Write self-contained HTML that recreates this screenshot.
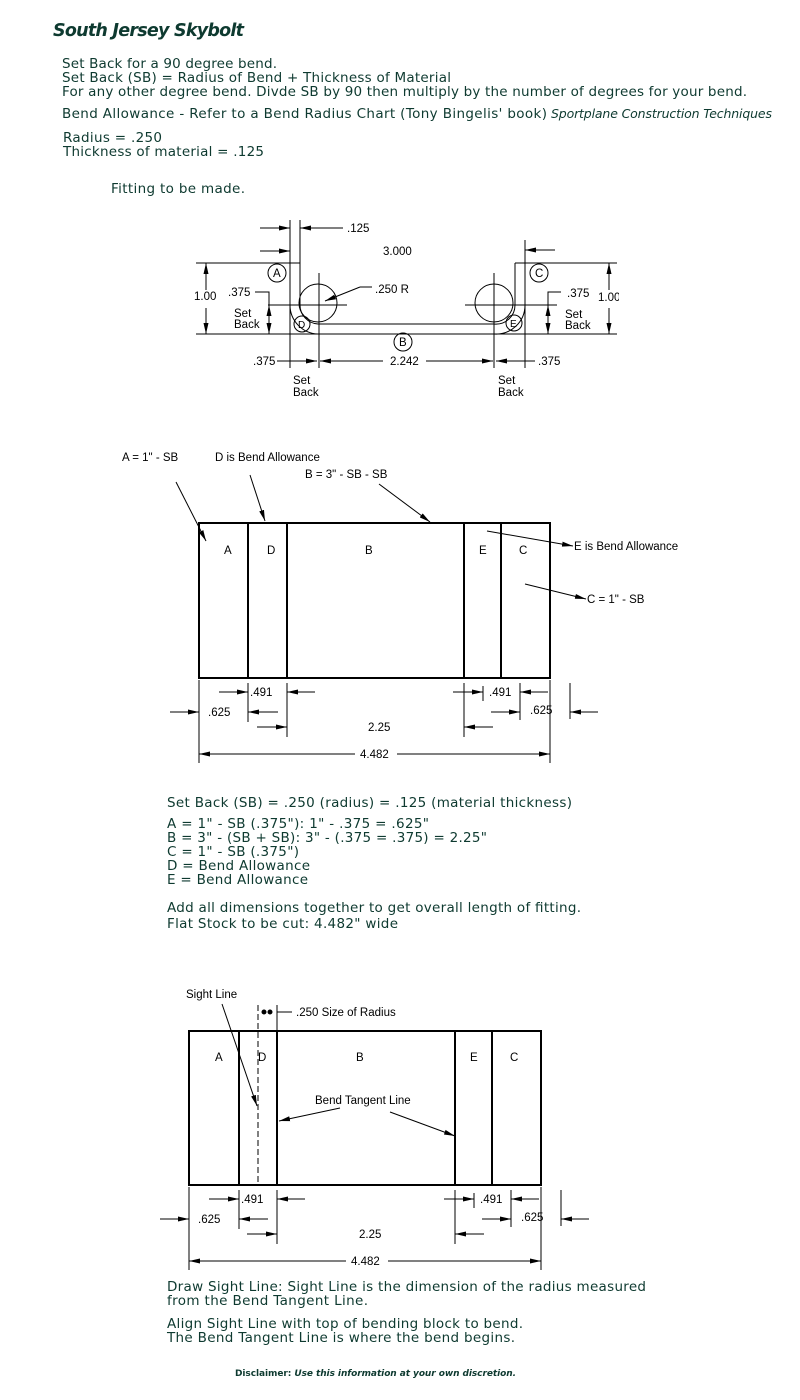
<!DOCTYPE html>
<html><head><meta charset="utf-8"><style>
html,body{margin:0;padding:0;background:#fff;}
svg{display:block;}
.t{font-family:"DejaVu Sans",sans-serif;font-size:13.5px;fill:#0e3a30;}
.d{font-family:"Liberation Sans",sans-serif;font-size:11.5px;fill:#000;}
.ln{stroke:#000;stroke-width:1;fill:none;}
.th{stroke:#000;stroke-width:2;fill:none;}
</style></head><body>
<svg width="800" height="1400" viewBox="0 0 800 1400" xmlns="http://www.w3.org/2000/svg">
<defs>
<marker id="a" markerUnits="userSpaceOnUse" markerWidth="11" markerHeight="6" refX="11" refY="3" orient="auto"><path d="M0,0.5 L11,3 L0,5.5 z" fill="#000"/></marker>
</defs>
<!-- header -->
<text x="53" y="36" textLength="191" style="font-family:'DejaVu Sans',sans-serif;font-size:17.5px;font-weight:bold;font-style:italic;fill:#0e3a30">South Jersey Skybolt</text>
<text class="t" x="62" y="68" textLength="215">Set Back for a 90 degree bend.</text>
<text class="t" x="62" y="82" textLength="389">Set Back (SB) = Radius of Bend + Thickness of Material</text>
<text class="t" x="62" y="96" textLength="685">For any other degree bend. Divde SB by 90 then multiply by the number of degrees for your bend.</text>
<text class="t" x="62" y="118" textLength="485">Bend Allowance - Refer to a Bend Radius Chart (Tony Bingelis' book)</text>
<text class="t" x="551" y="118" textLength="221" style="font-style:italic;font-size:12.5px">Sportplane Construction Techniques</text>
<text class="t" x="63" y="142" textLength="99">Radius = .250</text>
<text class="t" x="63" y="156" textLength="201">Thickness of material = .125</text>
<text class="t" x="111" y="193" textLength="134">Fitting to be made.</text>

<!-- TOP DIAGRAM -->
<g class="ln">
<line x1="290" y1="220" x2="290" y2="368"/><line x1="300" y1="220" x2="300" y2="263"/>
<line x1="260" y1="228" x2="290" y2="228" marker-end="url(#a)"/>
<line x1="343" y1="228" x2="300" y2="228" marker-end="url(#a)"/>
<line x1="260" y1="251" x2="290" y2="251" marker-end="url(#a)"/>
<line x1="555" y1="250" x2="525" y2="250" marker-end="url(#a)"/>
<line x1="525" y1="240" x2="525" y2="368"/>
<line x1="196" y1="263" x2="300" y2="263"/>
<line x1="515" y1="263" x2="617" y2="263"/>
<line x1="196" y1="334" x2="318" y2="334"/>
<line x1="494" y1="334" x2="617" y2="334"/>
<line x1="318" y1="334" x2="494" y2="334"/>
<line x1="318" y1="324" x2="494" y2="324"/>
<path d="M300,263 L300,305 A19,19 0 0 0 318,324"/>
<path d="M290,263 L290,305 A29,29 0 0 0 318,334"/>
<path d="M515,263 L515,305 A19,19 0 0 1 494,324"/>
<path d="M525,263 L525,305 A29,29 0 0 1 494,334"/>
<circle cx="318" cy="303" r="19"/><circle cx="494" cy="303" r="19"/>
<line x1="268" y1="305" x2="347" y2="305"/><line x1="319" y1="273" x2="319" y2="368"/>
<line x1="465" y1="305" x2="557" y2="305"/><line x1="494" y1="273" x2="494" y2="368"/>
<circle cx="277" cy="273" r="9"/><circle cx="539" cy="273" r="9"/>
<circle cx="403" cy="342" r="9"/><circle cx="302" cy="324" r="8"/><circle cx="514" cy="323" r="8"/>
<line x1="206" y1="290" x2="206" y2="263" marker-end="url(#a)"/>
<line x1="206" y1="308" x2="206" y2="334" marker-end="url(#a)"/>
<line x1="609" y1="290" x2="609" y2="263" marker-end="url(#a)"/>
<line x1="609" y1="308" x2="609" y2="334" marker-end="url(#a)"/>
<polyline points="255,292 269,292 269,334"/>
<line x1="269" y1="320" x2="269" y2="305" marker-end="url(#a)"/>
<line x1="269" y1="318" x2="269" y2="334" marker-end="url(#a)"/>
<polyline points="561,292 548,292 548,334"/>
<line x1="548" y1="320" x2="548" y2="305" marker-end="url(#a)"/>
<line x1="548" y1="318" x2="548" y2="334" marker-end="url(#a)"/>
<line x1="277" y1="361" x2="317" y2="361" marker-end="url(#a)"/>
<line x1="383" y1="361" x2="320" y2="361" marker-end="url(#a)"/>
<line x1="426" y1="361" x2="493" y2="361" marker-end="url(#a)"/>
<line x1="535" y1="361" x2="496" y2="361" marker-end="url(#a)"/>
<line x1="372" y1="287" x2="360" y2="287"/>
<line x1="360" y1="287" x2="325" y2="301" marker-end="url(#a)"/>
</g>
<g class="d">
<text x="347" y="232">.125</text><text x="383" y="255">3.000</text>
<text x="273" y="277">A</text><text x="535" y="277">C</text><text x="399" y="346">B</text>
<text x="298" y="328" font-size="10">D</text><text x="510" y="327" font-size="10">E</text>
<text x="194" y="300">1.00</text><text x="228" y="296">.375</text>
<text x="234" y="317">Set</text><text x="234" y="328">Back</text>
<text x="598" y="301">1.00</text><text x="567" y="297">.375</text>
<text x="565" y="318">Set</text><text x="565" y="329">Back</text>
<text x="375" y="293">.250 R</text>
<text x="253" y="365">.375</text><text x="390" y="365">2.242</text><text x="538" y="365">.375</text>
<text x="293" y="384">Set</text><text x="293" y="396">Back</text>
<text x="498" y="384">Set</text><text x="498" y="396">Back</text>
</g>
<rect x="619" y="280" width="20" height="30" fill="#fff"/>

<!-- MIDDLE DIAGRAM -->
<g class="th">
<rect x="199" y="523" width="351" height="155"/>
<line x1="248" y1="523" x2="248" y2="678"/><line x1="287" y1="523" x2="287" y2="678"/>
<line x1="464" y1="523" x2="464" y2="678"/><line x1="501" y1="523" x2="501" y2="678"/>
</g>
<g class="ln">
<line x1="176" y1="482" x2="206" y2="541" marker-end="url(#a)"/>
<line x1="250" y1="475" x2="265" y2="521" marker-end="url(#a)"/>
<line x1="379" y1="484" x2="430" y2="522" marker-end="url(#a)"/>
<line x1="487" y1="531" x2="573" y2="546" marker-end="url(#a)"/>
<line x1="525" y1="584" x2="586" y2="599" marker-end="url(#a)"/>
<line x1="199" y1="680" x2="199" y2="763"/><line x1="248" y1="683" x2="248" y2="722"/>
<line x1="287" y1="683" x2="287" y2="737"/><line x1="464" y1="683" x2="464" y2="737"/>
<line x1="483" y1="686" x2="483" y2="701"/><line x1="520" y1="683" x2="520" y2="720"/>
<line x1="550" y1="680" x2="550" y2="763"/><line x1="570" y1="683" x2="570" y2="719"/>
<line x1="219" y1="692" x2="248" y2="692" marker-end="url(#a)"/>
<line x1="315" y1="692" x2="287" y2="692" marker-end="url(#a)"/>
<line x1="170" y1="712" x2="199" y2="712" marker-end="url(#a)"/>
<line x1="278" y1="712" x2="248" y2="712" marker-end="url(#a)"/>
<line x1="257" y1="727" x2="287" y2="727" marker-end="url(#a)"/>
<line x1="493" y1="727" x2="464" y2="727" marker-end="url(#a)"/>
<line x1="453" y1="692" x2="483" y2="692" marker-end="url(#a)"/>
<line x1="548" y1="692" x2="520" y2="692" marker-end="url(#a)"/>
<line x1="491" y1="712" x2="520" y2="712" marker-end="url(#a)"/>
<line x1="598" y1="712" x2="570" y2="712" marker-end="url(#a)"/>
<line x1="355" y1="754" x2="199" y2="754" marker-end="url(#a)"/>
<line x1="397" y1="754" x2="550" y2="754" marker-end="url(#a)"/>
</g>
<g class="d">
<text x="122" y="461">A = 1" - SB</text><text x="215" y="461">D is Bend Allowance</text>
<text x="305" y="478">B = 3" - SB - SB</text>
<text x="574" y="550">E is Bend Allowance</text><text x="587" y="603">C = 1" - SB</text>
<text x="224" y="554">A</text><text x="267" y="554">D</text><text x="365" y="554">B</text>
<text x="479" y="554">E</text><text x="519" y="554">C</text>
<text x="250" y="696">.491</text><text x="208" y="716">.625</text><text x="368" y="731">2.25</text>
<text x="489" y="696">.491</text><text x="530" y="714">.625</text><text x="360" y="758">4.482</text>
</g>

<!-- middle text -->
<text class="t" x="167" y="807" textLength="405">Set Back (SB) = .250 (radius) = .125 (material thickness)</text>
<text class="t" x="167" y="828" textLength="262">A = 1" - SB (.375"): 1" - .375 = .625"</text>
<text class="t" x="167" y="842" textLength="320">B = 3" - (SB + SB): 3" - (.375 = .375) = 2.25"</text>
<text class="t" x="167" y="856" textLength="132">C = 1" - SB (.375")</text>
<text class="t" x="167" y="870" textLength="143">D = Bend Allowance</text>
<text class="t" x="167" y="884" textLength="141">E = Bend Allowance</text>
<text class="t" x="167" y="912" textLength="414">Add all dimensions together to get overall length of fitting.</text>
<text class="t" x="167" y="928" textLength="231">Flat Stock to be cut: 4.482" wide</text>

<!-- BOTTOM DIAGRAM -->
<g class="th">
<rect x="189" y="1031" width="352" height="154"/>
<line x1="239" y1="1031" x2="239" y2="1185"/><line x1="277" y1="1031" x2="277" y2="1185"/>
<line x1="455" y1="1031" x2="455" y2="1185"/><line x1="492" y1="1031" x2="492" y2="1185"/>
</g>
<g class="ln">
<line x1="258" y1="1005" x2="258" y2="1185" stroke-dasharray="6,3"/>
<line x1="277" y1="1005" x2="277" y2="1031"/>
<line x1="292" y1="1012" x2="277" y2="1012"/>
<circle cx="264" cy="1012" r="2" fill="#000"/><circle cx="270" cy="1012" r="2" fill="#000"/>
<line x1="222" y1="1004" x2="257" y2="1106" marker-end="url(#a)"/>
<line x1="340" y1="1108" x2="279" y2="1121" marker-end="url(#a)"/>
<line x1="390" y1="1112" x2="455" y2="1136" marker-end="url(#a)"/>
<line x1="189" y1="1187" x2="189" y2="1270"/><line x1="239" y1="1190" x2="239" y2="1229"/>
<line x1="277" y1="1190" x2="277" y2="1244"/><line x1="455" y1="1190" x2="455" y2="1244"/>
<line x1="474" y1="1193" x2="474" y2="1208"/><line x1="511" y1="1190" x2="511" y2="1227"/>
<line x1="541" y1="1187" x2="541" y2="1270"/><line x1="561" y1="1190" x2="561" y2="1226"/>
<line x1="209" y1="1199" x2="239" y2="1199" marker-end="url(#a)"/>
<line x1="305" y1="1199" x2="277" y2="1199" marker-end="url(#a)"/>
<line x1="160" y1="1219" x2="189" y2="1219" marker-end="url(#a)"/>
<line x1="268" y1="1219" x2="239" y2="1219" marker-end="url(#a)"/>
<line x1="247" y1="1234" x2="277" y2="1234" marker-end="url(#a)"/>
<line x1="484" y1="1234" x2="455" y2="1234" marker-end="url(#a)"/>
<line x1="444" y1="1199" x2="474" y2="1199" marker-end="url(#a)"/>
<line x1="539" y1="1199" x2="511" y2="1199" marker-end="url(#a)"/>
<line x1="482" y1="1219" x2="511" y2="1219" marker-end="url(#a)"/>
<line x1="589" y1="1219" x2="561" y2="1219" marker-end="url(#a)"/>
<line x1="346" y1="1261" x2="189" y2="1261" marker-end="url(#a)"/>
<line x1="388" y1="1261" x2="541" y2="1261" marker-end="url(#a)"/>
</g>
<g class="d">
<text x="186" y="998">Sight Line</text><text x="296" y="1016">.250 Size of Radius</text>
<text x="215" y="1061">A</text><text x="258" y="1061">D</text><text x="356" y="1061">B</text>
<text x="470" y="1061">E</text><text x="510" y="1061">C</text>
<text x="315" y="1104">Bend Tangent Line</text>
<text x="241" y="1203">.491</text><text x="198" y="1223">.625</text><text x="359" y="1238">2.25</text>
<text x="480" y="1203">.491</text><text x="521" y="1221">.625</text><text x="351" y="1265">4.482</text>
</g>

<text class="t" x="167" y="1291" textLength="479">Draw Sight Line: Sight Line is the dimension of the radius measured</text>
<text class="t" x="167" y="1305" textLength="201">from the Bend Tangent Line.</text>
<text class="t" x="167" y="1328" textLength="356">Align Sight Line with top of bending block to bend.</text>
<text class="t" x="167" y="1342" textLength="348">The Bend Tangent Line is where the bend begins.</text>
<text x="235" y="1376" textLength="281" style="font-family:'DejaVu Sans',sans-serif;font-size:9px;font-weight:bold;fill:#0e3a30">Disclaimer: <tspan font-style="italic">Use this information at your own discretion.</tspan></text>
</svg>
</body></html>
